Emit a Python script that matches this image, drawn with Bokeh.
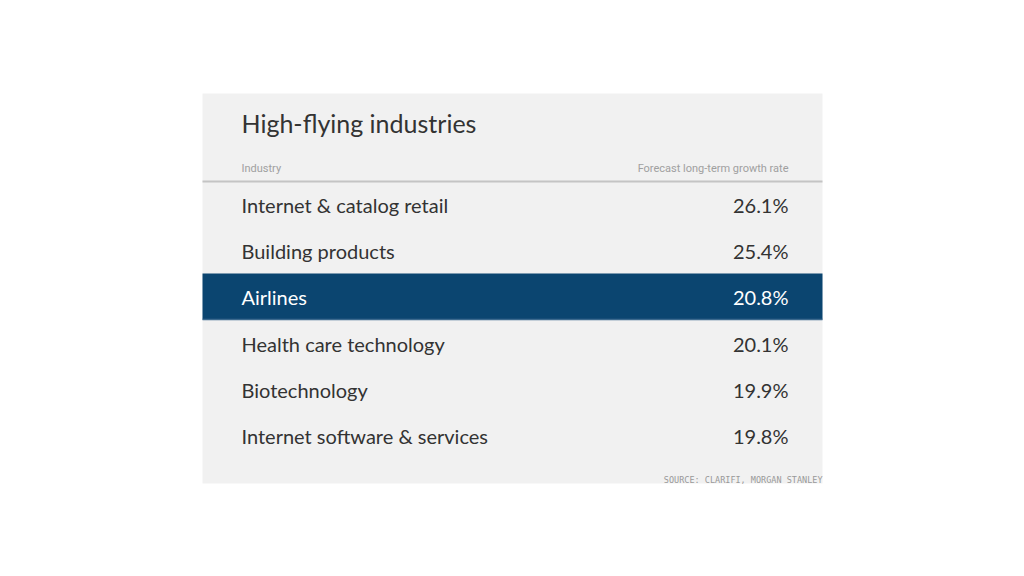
from bokeh.plotting import figure
from bokeh.models import ColumnDataSource, Range1d
from bokeh.core.properties import value
from bokeh.embed import file_html
from bokeh.resources import INLINE

title = "High-flying industries"
col_headers = ["Industry", "Forecast long-term growth rate"]
industries = ["Internet & catalog retail", "Building products", "Airlines",
              "Health care technology", "Biotechnology", "Internet software & services"]
growth = [26.1, 25.4, 20.8, 20.1, 19.9, 19.8]
highlight = "Airlines"
source_note = "SOURCE: CLARIFI, MORGAN STANLEY"

W, H = 1008, 560
p = figure(width=W, height=H, output_backend="svg", toolbar_location=None,
           x_range=Range1d(0, W), y_range=Range1d(H, 0),
           min_border=0, outline_line_color=None)
p.axis.visible = False
p.grid.visible = False
p.background_fill_color = "white"
p.border_fill_color = "white"

# panel
L, R, T, B = 202, 822, 93, 483
p.quad(left=[L], right=[R], top=[T], bottom=[B], fill_color="#f1f1f1", line_color=None)

p.text(x=[241], y=[122.5], text=[title], text_font=value("Lato"), text_font_size="25px",
       text_color="#333333", text_baseline="middle", text_align="left")

p.text(x=[241], y=[168], text=[col_headers[0]], text_font=value("Roboto"),
       text_font_size="11px", text_color="#a0a0a0", text_baseline="middle", text_align="left")
p.text(x=[788], y=[168], text=[col_headers[1]], text_font=value("Roboto"),
       text_font_size="11px", text_color="#a0a0a0", text_baseline="middle", text_align="right")
p.segment(x0=[L], x1=[R], y0=[181], y1=[181], line_color="#c4c4c4", line_width=2)

row0, rowh = 204.3, 46.3
ys = [row0 + i * rowh for i in range(len(industries))]
colors = ["#ffffff" if n == highlight else "#333333" for n in industries]
src = ColumnDataSource(dict(name=industries, val=[f"{g:.1f}%" for g in growth], y=ys, color=colors))

hy = [y for y, n in zip(ys, industries) if n == highlight]
p.quad(left=[L] * len(hy), right=[R] * len(hy), top=[y - 24 for y in hy],
       bottom=[y + 22 for y in hy], fill_color="#0b4570", line_color=None)
p.segment(x0=[L] * len(hy), x1=[R] * len(hy), y0=[y + 22 for y in hy], y1=[y + 22 for y in hy],
          line_color="#3d6a8e", line_width=1.5)

p.text(x=241, y="y", text="name", source=src, text_font=value("Lato"), text_font_size="20px",
       text_color="color", text_baseline="middle", text_align="left")
p.text(x=788, y="y", text="val", source=src, text_font=value("Lato"), text_font_size="20px",
       text_color="color", text_baseline="middle", text_align="right")

p.text(x=[822], y=[479], text=[source_note], text_font=value("DejaVu Sans Mono"),
       text_font_size="8.5px", text_color="#999999", text_baseline="middle", text_align="right")

open("out.html", "w").write(file_html(p, INLINE))
